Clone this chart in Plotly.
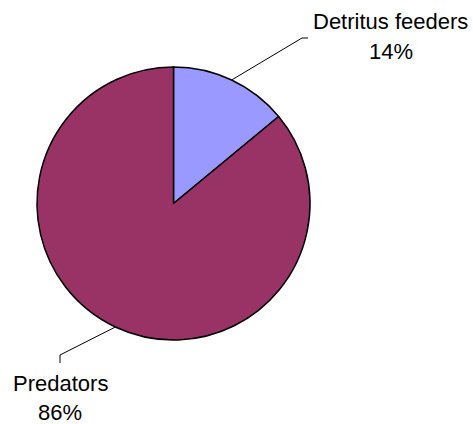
import math
import plotly.graph_objects as go

labels = ["Detritus feeders", "Predators"]
values = [14, 86]
colors = ["#9999FF", "#993366"]

W, H = 473, 424
CX, CY, R = 173.5, 203.5, 136.5

def px(x):
    return x / W

def py(y):
    return 1 - y / H

fig = go.Figure(go.Pie(
    labels=labels, values=values, sort=False, direction="clockwise", rotation=0,
    marker=dict(colors=colors, line=dict(color="black", width=1.5)),
    textinfo="none", hoverinfo="label+percent", showlegend=False,
    domain=dict(x=[px(CX - R), px(CX + R)], y=[py(CY + R), py(CY - R)]),
))

# leader-line elbows and label anchors (layout, in pixels)
elbows = [[(302, 38), (308, 38)], [(60, 355), (60, 363)]]
name_pos = [(390, 21), (60, 383.5)]
pct_pos = [(391, 52), (60, 412.5)]

total = sum(values)
cum = 0
shapes, annotations = [], []
font = dict(family="Liberation Sans, Arial", size=22, color="black")
for lab, v, elb, npos, ppos in zip(labels, values, elbows, name_pos, pct_pos):
    mid = (cum + v / 2) / total * 2 * math.pi
    cum += v
    sx = CX + R * math.sin(mid)
    sy = CY - R * math.cos(mid)
    pts = [(sx, sy)] + elb
    path = "M " + " L ".join(f"{px(x)},{py(y)}" for x, y in pts)
    shapes.append(dict(type="path", path=path, xref="paper", yref="paper",
                       line=dict(color="black", width=1)))
    pct = round(v / total * 100)
    for txt, (x, y) in ((lab, npos), (f"{pct}%", ppos)):
        annotations.append(dict(x=px(x), y=py(y), xref="paper", yref="paper",
                                text=txt, showarrow=False,
                                xanchor="center", yanchor="middle", align="center",
                                font=font))

fig.update_layout(width=W, height=H, margin=dict(l=0, r=0, t=0, b=0),
                  paper_bgcolor="white", plot_bgcolor="white",
                  shapes=shapes, annotations=annotations)
fig.write_html("out.html")
